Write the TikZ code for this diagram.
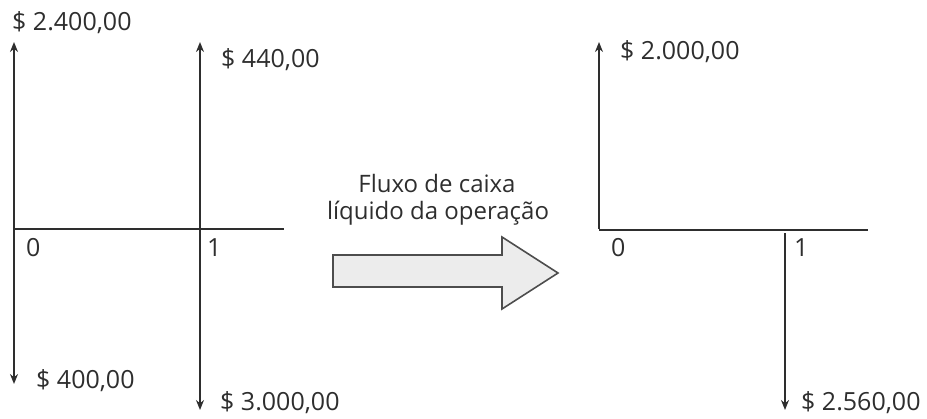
\documentclass[tikz,border=0pt]{standalone}
\usepackage{fontspec}
\setmainfont{Open Sans}
\usetikzlibrary{arrows.meta}
\definecolor{ink}{HTML}{2E2E2E}
\definecolor{arrfill}{HTML}{ECECEC}
\begin{document}
\begin{tikzpicture}[x=1pt,y=-1pt,
  lbl/.style={font=\fontsize{25}{29}\selectfont, text=ink, inner sep=0pt, anchor=west},
  captext/.style={font=\fontsize{24}{28}\selectfont, text=ink, inner sep=0pt},
  axisline/.style={draw=ink, line width=2.2pt},
  flow/.style={draw=ink, line width=2.2pt, -{Stealth[length=10pt,width=8pt]}}]
\useasboundingbox (0,0) rectangle (927,418);
% left diagram
\coordinate (L0) at (14,229);
\coordinate (L1) at (200,229);
\coordinate (Lend) at (284,229);
\coordinate (L0up) at (14,42);
\coordinate (L0dn) at (14,384);
\coordinate (L1up) at (200,42);
\coordinate (L1dn) at (200,410);
\draw[axisline] (L0) -- (Lend);
\draw[flow] (L0) -- (L0up);
\draw[flow] (L0) -- (L0dn);
\draw[flow] (L1) -- (L1up);
\draw[flow] (L1) -- (L1dn);
\node[lbl] (a) at (12,23) {\$ 2.400,00};
\node[lbl] (b) at (221,60) {\$ 440,00};
\node[lbl] (c) at (26,248) {0};
\node[lbl] (d) at (207,248) {1};
\node[lbl] (e) at (36,381) {\$ 400,00};
\node[lbl] (f) at (220,403) {\$ 3.000,00};
% big arrow
\draw[draw=ink!85, fill=arrfill, line width=1.6pt, line join=miter]
  (333,255) -- (502,255) -- (502,237) -- (558,273) -- (502,309) -- (502,287) -- (333,287) -- cycle;
\node[captext] (t1) at (437,183) {Fluxo de caixa};
\node[captext] (t2) at (438,213) {líquido da operação};
% right diagram
\coordinate (R0) at (599,230);
\coordinate (R1) at (785,230);
\coordinate (Rend) at (868,230);
\coordinate (R0up) at (599,42);
\coordinate (R1dn) at (785,410);
\draw[axisline] (R0) -- (Rend);
\draw[flow] ([yshift=1.1pt]R0) -- (R0up);
\draw[flow] ([yshift=-3pt]R1) -- (R1dn);
\node[lbl] (g) at (620,52) {\$ 2.000,00};
\node[lbl] (h) at (611,248) {0};
\node[lbl] (i) at (794,248) {1};
\node[lbl] (j) at (801,403) {\$ 2.560,00};
\end{tikzpicture}
\end{document}
